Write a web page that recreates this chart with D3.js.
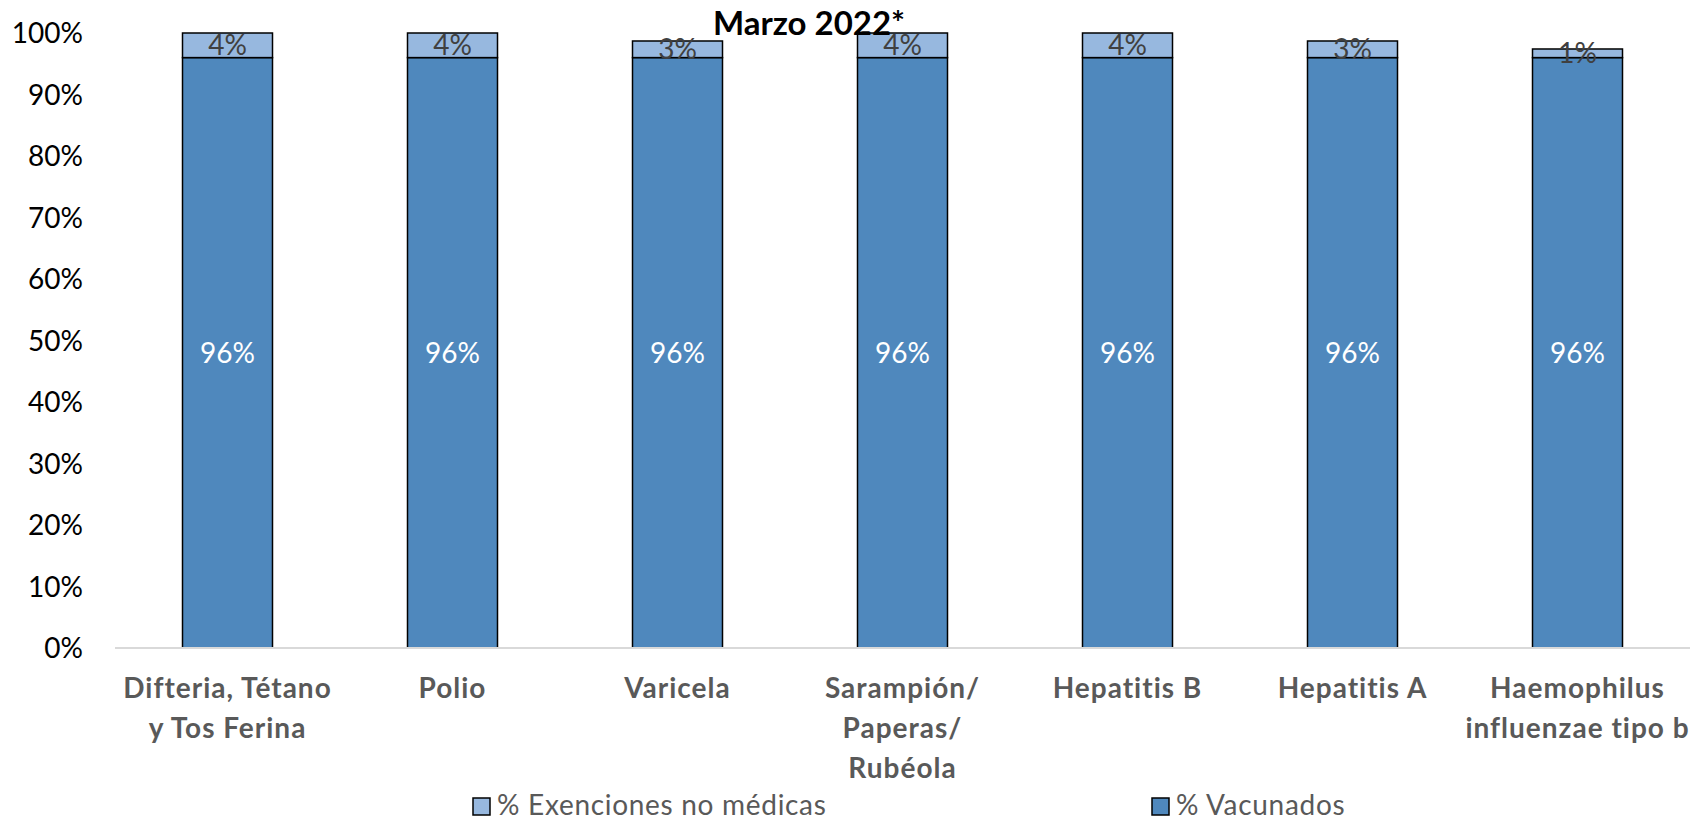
<!DOCTYPE html>
<html>
<head>
<meta charset="utf-8">
<script src="https://cdn.jsdelivr.net/npm/d3@7"></script>
<style>
	body { margin: 0; background: #fff; }
	svg { display: block; font-family: Lato, "Noto Sans", sans-serif; }
</style>
</head>
<body>
<div id="chart"></div>
<script>
// Chart data
const categories = [
	['Difteria, Tétano', 'y Tos Ferina'],
	['Polio'],
	['Varicela'],
	['Sarampión/', 'Paperas/', 'Rubéola'],
	['Hepatitis B'],
	['Hepatitis A'],
	['Haemophilus', 'influenzae tipo b']
];
const vacunados = [96, 96, 96, 96, 96, 96, 96];
const exenciones = [4, 4, 2.7, 4, 4, 2.7, 1.4];
const yTicks = [0, 10, 20, 30, 40, 50, 60, 70, 80, 90, 100];
const seriesNames = ['% Exenciones no médicas', '% Vacunados'];
const title = 'Marzo 2022*';

const width = 1708;
const height = 822;
const margin = { top: 33, left: 115, right: 18, bottom: 174 };

const colors = { vac: '#4f88bd', exe: '#97b8df' };

const svg = d3.select('#chart')
	.append('svg')
	.attr('width', width)
	.attr('height', height);

const x = d3.scaleBand()
	.domain(d3.range(categories.length))
	.range([margin.left, width - margin.right])
	.paddingInner(0.6)
	.paddingOuter(0.3);

const y = d3.scaleLinear()
	.domain([0, 100])
	.range([height - margin.bottom, margin.top]);

// y tick labels (no axis line in the original)
svg.append('g')
	.selectAll('text')
	.data(yTicks)
	.enter()
	.append('text')
	.attr('x', 83)
	.attr('y', d => y(d))
	.attr('dy', '0.36em')
	.attr('text-anchor', 'end')
	.attr('font-size', 28)
	.attr('fill', '#000')
	.text(d => d + '%');

// bars
const bars = svg.append('g');
const idx = d3.range(categories.length);

bars.selectAll('rect.vac')
	.data(idx)
	.enter()
	.append('rect')
	.attr('class', 'vac')
	.attr('x', i => x(i))
	.attr('width', x.bandwidth())
	.attr('y', i => y(vacunados[i]))
	.attr('height', i => y(0) - y(vacunados[i]))
	.attr('fill', colors.vac)
	.attr('stroke', '#000')
	.attr('stroke-width', 1.5);

bars.selectAll('rect.exe')
	.data(idx)
	.enter()
	.append('rect')
	.attr('class', 'exe')
	.attr('x', i => x(i))
	.attr('width', x.bandwidth())
	.attr('y', i => y(vacunados[i] + exenciones[i]))
	.attr('height', i => y(vacunados[i]) - y(vacunados[i] + exenciones[i]))
	.attr('fill', colors.exe)
	.attr('stroke', '#000')
	.attr('stroke-width', 1.5);

// category axis line
svg.append('line')
	.attr('x1', margin.left)
	.attr('x2', width - margin.right)
	.attr('y1', y(0))
	.attr('y2', y(0))
	.attr('stroke', '#d9d9d9')
	.attr('stroke-width', 2);

// data labels
const fmt = d3.format('.0f');
bars.selectAll('text.vac-label')
	.data(idx)
	.enter()
	.append('text')
	.attr('class', 'vac-label')
	.attr('x', i => x(i) + x.bandwidth() / 2)
	.attr('y', i => y(vacunados[i] / 2))
	.attr('dy', '0.36em')
	.attr('text-anchor', 'middle')
	.attr('font-size', 28)
	.attr('fill', '#fff')
	.text(i => fmt(vacunados[i]) + '%');

bars.selectAll('text.exe-label')
	.data(idx)
	.enter()
	.append('text')
	.attr('class', 'exe-label')
	.attr('x', i => x(i) + x.bandwidth() / 2)
	.attr('y', i => y(vacunados[i] + exenciones[i] / 2))
	.attr('dy', '0.36em')
	.attr('text-anchor', 'middle')
	.attr('font-size', 28)
	.attr('fill', '#404040')
	.text(i => fmt(exenciones[i]) + '%');

// category labels
const catLabels = svg.append('g')
	.selectAll('text')
	.data(idx)
	.enter()
	.append('text')
	.attr('text-anchor', 'middle')
	.attr('font-size', 28)
	.attr('letter-spacing', 1)
	.attr('font-weight', 'bold')
	.attr('fill', '#595959');

catLabels.each(function (i) {
	const t = d3.select(this);
	categories[i].forEach((line, k) => {
		t.append('tspan')
			.attr('x', x(i) + x.bandwidth() / 2)
			.attr('y', 698 + k * 40)
			.text(line);
	});
});

// title
svg.append('text')
	.attr('x', 809)
	.attr('y', 35)
	.attr('text-anchor', 'middle')
	.attr('font-size', 33)
	.attr('font-weight', 'bold')
	.attr('fill', '#000')
	.text(title);

// legend
const legendX = [473, 1152];
const legend = svg.append('g')
	.selectAll('g')
	.data(seriesNames)
	.enter()
	.append('g')
	.attr('transform', (d, i) => `translate(${legendX[i]}, 798)`);

legend.append('rect')
	.attr('width', 17)
	.attr('height', 17)
	.attr('fill', (d, i) => i === 0 ? colors.exe : colors.vac)
	.attr('stroke', '#000')
	.attr('stroke-width', 1.5);

legend.append('text')
	.attr('x', 24)
	.attr('y', 17)
	.attr('font-size', 28)
	.attr('letter-spacing', 0.7)
	.attr('fill', '#595959')
	.text(d => d);
</script>
</body>
</html>
